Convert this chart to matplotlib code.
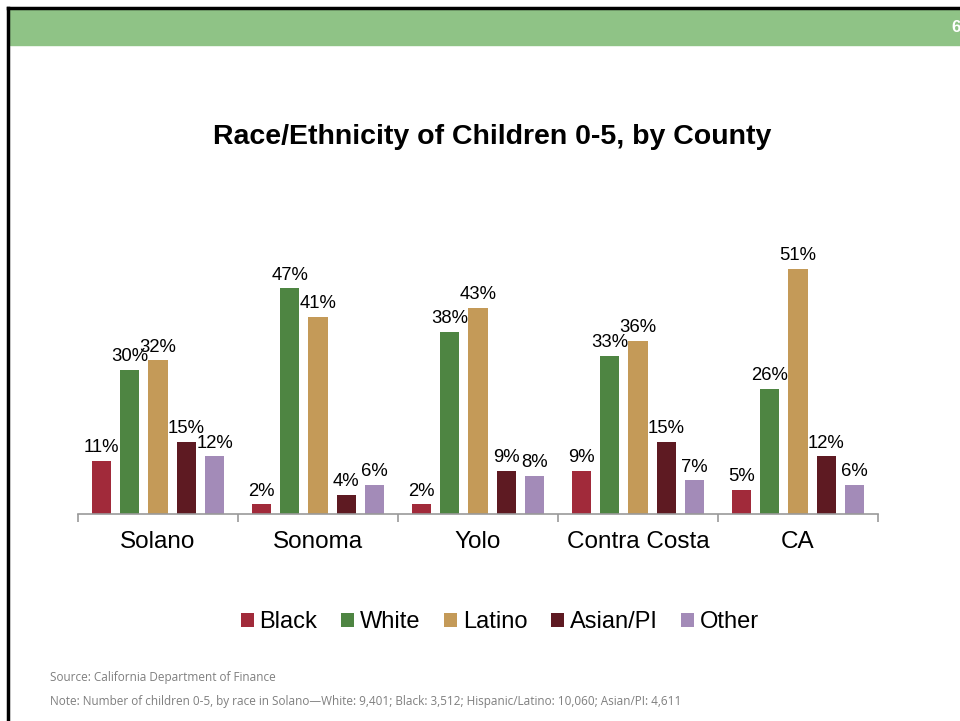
import matplotlib
matplotlib.use("Agg")
import matplotlib.pyplot as plt
from matplotlib.patches import Rectangle
import numpy as np

plt.rcParams['font.family'] = ['Liberation Sans', 'DejaVu Sans']

counties = ['Solano', 'Sonoma', 'Yolo', 'Contra Costa', 'CA']
races = ['Black', 'White', 'Latino', 'Asian/PI', 'Other']
black = [11, 2, 2, 9, 5]
white = [30, 47, 38, 33, 26]
latino = [32, 41, 43, 36, 51]
asian = [15, 4, 9, 15, 12]
other = [12, 6, 8, 7, 6]
series = [black, white, latino, asian, other]
colors = ['#a12a3a', '#4e8542', '#c49a58', '#5e1a22', '#a38bb8']

fig = plt.figure(figsize=(9.6, 7.21), dpi=100)

# slide frame and green banner
fig.patches.append(Rectangle((10/960, 1 - 45/721), 950/960, 35/721,
                             transform=fig.transFigure, color='#8fc386', zorder=0))
fig.add_artist(plt.Line2D([8/960, 8/960], [0, 1 - 8/721], transform=fig.transFigure,
                          color='black', lw=2.5))
fig.add_artist(plt.Line2D([8/960, 1], [1 - 8/721, 1 - 8/721], transform=fig.transFigure,
                          color='black', lw=2.5))
# slide number
fig.text(951/960, 1 - 28/721, '6', color='white', fontsize=12, fontweight='bold',
         ha='left', va='center')

fig.text(492/960, 1 - 137/721, 'Race/Ethnicity of Children 0-5, by County',
         ha='center', va='center', fontsize=20.5, fontweight='bold')

ax = fig.add_axes([78/960, 207/721, 800/960, 264/721])
x = np.arange(len(counties))
pitch = 0.177
width = 0.12
for i, (vals, c, name) in enumerate(zip(series, colors, races)):
    pos = x + (i - 2) * pitch
    ax.bar(pos, vals, width=width, color=c, label=name)
    for p, v in zip(pos, vals):
        ax.text(p, v + 1.0, f'{v}%', ha='center', va='bottom', fontsize=13.3)

ax.set_xlim(-0.5, len(counties) - 0.5)
ax.set_ylim(0, 55)
ax.set_yticks([])
for s in ['top', 'right', 'left']:
    ax.spines[s].set_visible(False)
ax.spines['bottom'].set_color('#999999')
ax.spines['bottom'].set_linewidth(1.2)
ax.set_xticks(np.arange(-0.5, len(counties), 1.0))
ax.set_xticklabels([])
ax.tick_params(axis='x', length=6, color='#999999', width=1.2)
for xi, name in zip(x, counties):
    ax.text(xi, -5.9, name, ha='center', va='center', fontsize=17.5)

handles, labels = ax.get_legend_handles_labels()
fig.legend(handles, labels, loc='center', bbox_to_anchor=(500/960, 1 - 622/721),
           ncol=5, frameon=False, fontsize=17, handlelength=0.55, handleheight=0.55,
           handletextpad=0.25, columnspacing=1.0)

fig.text(50/960, 1 - 677/721, 'Source: California Department of Finance',
         fontsize=8.5, color='#7f7f7f', family=['Open Sans', 'DejaVu Sans'], va='center')
fig.text(50/960, 1 - 701/721,
         'Note: Number of children 0-5, by race in Solano\u2014White: 9,401; Black: 3,512; '
         'Hispanic/Latino: 10,060; Asian/PI: 4,611',
         fontsize=8.5, color='#7f7f7f', family=['Open Sans', 'DejaVu Sans'], va='center')

fig.savefig('out.png', dpi=100)
